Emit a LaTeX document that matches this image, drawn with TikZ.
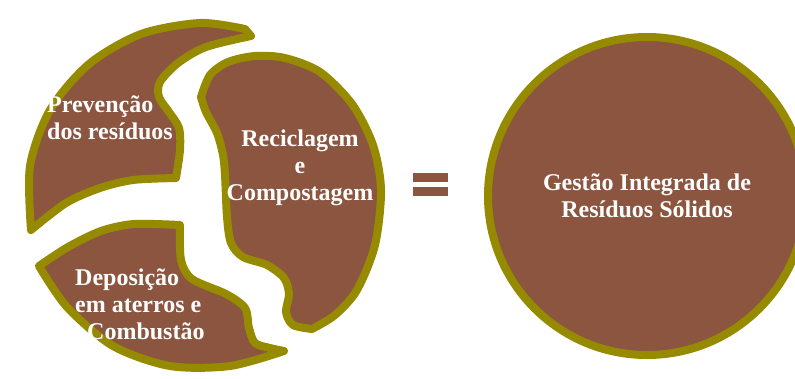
\documentclass[tikz,border=0pt]{standalone}
\usepackage{fontspec}
\setmainfont{Liberation Serif}
\definecolor{brownfill}{RGB}{139,85,64}
\definecolor{olivedge}{RGB}{150,139,0}

\begin{document}
\begin{tikzpicture}[x=1pt,y=-1pt,
  piece/.style={fill=brownfill,draw=olivedge,line width=8pt,line join=round},
  label/.style={text=white,font=\fontsize{24}{27}\selectfont\bfseries,inner sep=0pt}]

  \useasboundingbox (0,0) rectangle (795,378);

  % top left piece
  \draw [piece] plot[smooth] coordinates {(31,230) (30,166) (50,110) (89,64) (141,34) (200,23) (245,29)} -- (251,36)
    -- plot[smooth] coordinates {(251,36) (206,47) (178,63) (160,82) (159,97) (169,112) (179,128) (180,150) (176,178)}
    -- plot[smooth] coordinates {(176,178) (133,180) (100,188) (66,203) (31,230)} -- cycle;

  % right piece
  \draw [piece] plot[smooth] coordinates {(201,97) (210,75) (228,62) (255,56) (285,58) (320,72) (352,104) (373,145) (381,190) (375,245) (357,290) (335,315) (312,329)}
    -- plot[smooth] coordinates {(312,329) (293,325) (286,312) (289,294) (284,278) (267,265) (243,257) (231,243) (227,217) (225,175) (223,155) (217,133) (206,112) (201,97)} -- cycle;

  % bottom left piece
  \draw [piece] plot[smooth] coordinates {(39,266) (68,247) (101,231) (134,224) (180,225)}
    -- plot[smooth] coordinates {(180,225) (181,260) (192,279) (226,294) (245,308) (249,328) (255,343) (270,348) (284,351)}
    -- plot[smooth] coordinates {(284,351) (230,366) (170,366) (113,346) (67,307) (39,266)} -- cycle;

  \node (prev) at (47,118) [label,anchor=west,align=left] {Prevenção\\dos resíduos};
  \node (recic) at (300,168) [label,align=center] {Reciclagem\\e\\Compostagem};
  \node (depos) at (75,304) [label,anchor=west,align=left] {Deposição\\em aterros e\\\hspace*{12pt}Combustão};

  % equals sign
  \fill [brownfill] (413,173) rectangle (448,182);
  \fill [brownfill] (413,187) rectangle (448,196);

  \node (gestao) at (647,196) [circle,fill=brownfill,draw=olivedge,line width=8pt,minimum size=318pt,inner sep=0pt,
    text=white,font=\fontsize{24}{27}\selectfont\bfseries,align=center] {Gestão Integrada de\\Resíduos Sólidos};

\end{tikzpicture}
\end{document}
